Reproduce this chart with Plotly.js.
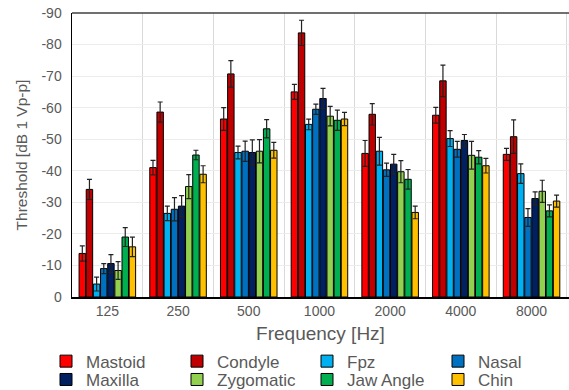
<!DOCTYPE html>
<html>
<head>
<meta charset="utf-8">
<script src="https://cdn.plot.ly/plotly-3.0.1.min.js"></script>
<style>html,body{margin:0;padding:0;background:#fff;}#chart{width:569px;height:390px;}</style>
</head>
<body>
<div id="chart"></div>
<script>
// Categories
const frequencies = ["125", "250", "500", "1000", "2000", "4000", "8000"];
const seriesNames = ["Mastoid", "Condyle", "Fpz", "Nasal", "Maxilla", "Zygomatic", "Jaw Angle", "Chin"];
const seriesColors = ["#FF0000", "#C00000", "#00B0F0", "#0070C0", "#002060", "#92D050", "#00B050", "#FFC000"];

// Thresholds (dB re 1 Vp-p)
const mastoid   = [-13.8, -41.0, -56.4, -65.0, -45.5, -57.6, -45.2];
const condyle   = [-34.1, -58.6, -70.7, -83.7, -57.9, -68.5, -50.8];
const fpz       = [-4.1, -26.5, -45.8, -54.7, -46.2, -50.2, -39.1];
const nasal     = [-9.0, -27.8, -46.2, -59.5, -40.3, -46.8, -25.2];
const maxilla   = [-10.6, -28.8, -45.8, -62.9, -42.1, -49.6, -31.2];
const zygomatic = [-8.4, -35.0, -46.2, -57.3, -39.7, -44.9, -33.5];
const jawAngle  = [-19.0, -45.0, -53.3, -56.0, -37.3, -44.3, -27.3];
const chin      = [-15.9, -38.9, -46.5, -56.4, -26.8, -41.6, -30.4];

// Error (± dB)
const mastoidErr   = [2.4, 2.3, 3.6, 2.4, 4.1, 2.5, 1.9];
const condyleErr   = [3.2, 3.2, 4.2, 4.0, 3.4, 5.0, 5.3];
const fpzErr       = [2.2, 2.3, 2.0, 1.7, 4.4, 2.5, 3.1];
const nasalErr     = [1.6, 3.7, 3.2, 1.6, 2.1, 2.5, 2.8];
const maxillaErr   = [2.8, 3.3, 4.0, 3.2, 3.1, 1.9, 2.1];
const zygomaticErr = [2.8, 3.8, 3.7, 3.1, 3.5, 4.4, 3.5];
const jawAngleErr  = [3.0, 1.5, 2.9, 3.2, 3.1, 2.1, 1.9];
const chinErr      = [3.1, 2.7, 2.5, 2.1, 2.0, 2.3, 1.9];

// Y tick labels
const yTickVals = [0, -10, -20, -30, -40, -50, -60, -70, -80, -90];
const yTickText = ["0", "-10", "-20", "-30", "-40", "-50", "-60", "-70", "-80", "-90"];

const allValues = [mastoid, condyle, fpz, nasal, maxilla, zygomatic, jawAngle, chin];
const allErrors = [mastoidErr, condyleErr, fpzErr, nasalErr, maxillaErr, zygomaticErr, jawAngleErr, chinErr];

const legendIds = seriesNames.map((_, i) => (i === 0 ? "legend" : "legend" + (i + 1)));

const traces = seriesNames.map((name, i) => ({
  type: "bar",
  name: name,
  legend: legendIds[i],
  x: frequencies,
  y: allValues[i],
  marker: { color: seriesColors[i], line: { color: "#000000", width: 1 } },
  error_y: { type: "data", array: allErrors[i], visible: true, color: "#222222", thickness: 1.2, width: 2.5 }
}));

const textGray = "#595959";
// legend grid placement (container pixels)
const legendColX = [46, 177, 307, 438];
const legendRowY = [0.119, 0.072];

const layout = {
  width: 569,
  height: 390,
  margin: { l: 72, r: 0, t: 13, b: 93 },
  paper_bgcolor: "#ffffff",
  plot_bgcolor: "#ffffff",
  font: { family: "Arial, Liberation Sans, sans-serif", color: textGray, size: 14 },
  barmode: "group",
  bargap: 0.19,
  bargroupgap: 0.1,
  showlegend: true,
  xaxis: {
    type: "category",
    range: [-0.5, 6.53],
    tickson: "boundaries",
    showgrid: true,
    gridcolor: "#d9d9d9",
    gridwidth: 1,
    ticks: "",
    showline: true,
    linecolor: "#000000",
    linewidth: 2,
    mirror: false,
    tickfont: { size: 14, color: textGray },
    title: { text: "Frequency [Hz]", font: { size: 19, color: textGray }, standoff: 10 }
  },
  yaxis: {
    range: [0, -90],
    tickvals: yTickVals,
    ticktext: yTickText,
    showgrid: true,
    gridcolor: "#ececec",
    gridwidth: 1,
    zeroline: false,
    showline: true,
    linecolor: "#000000",
    linewidth: 1.5,
    ticks: "",
    ticklabelstandoff: 6,
    tickfont: { size: 14, color: textGray },
    title: { text: "Threshold [dB 1 Vp-p]", font: { size: 15.5, color: textGray }, standoff: 10 }
  },
  shapes: [
    { type: "line", xref: "paper", yref: "paper", x0: 0, x1: 1, y0: 1, y1: 1, line: { color: "#404040", width: 1.5 } }
  ]
};

legendIds.forEach((id, i) => {
  layout[id] = {
    orientation: "h",
    xref: "container",
    yref: "container",
    x: legendColX[i % 4] / 569,
    y: legendRowY[Math.floor(i / 4)],
    xanchor: "left",
    yanchor: "top",
    itemwidth: 30,
    font: { size: 17, color: textGray, family: "Arial, Liberation Sans, sans-serif" },
    bgcolor: "rgba(0,0,0,0)"
  };
});

Plotly.newPlot("chart", traces, layout, { displayModeBar: false, staticPlot: true });
</script>
</body>
</html>
